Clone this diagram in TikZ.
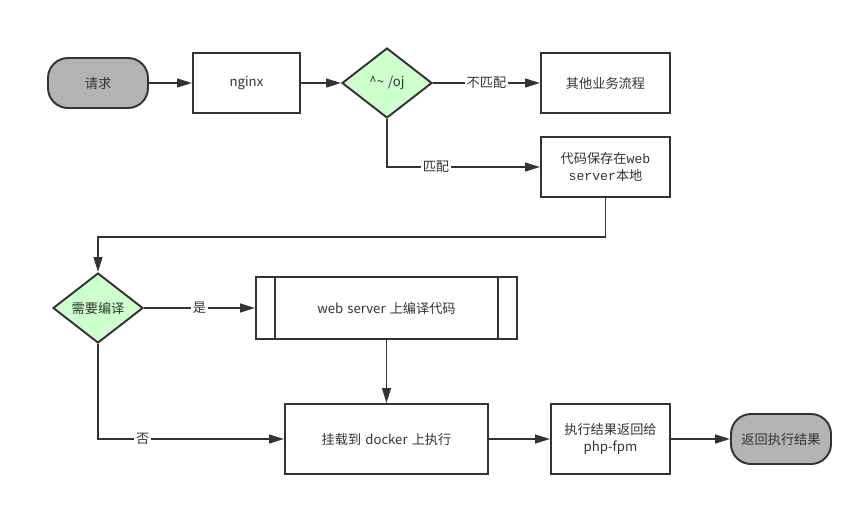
\documentclass[tikz,border=0pt]{standalone}
\usepackage{fontspec}
\setmainfont{Noto Sans CJK SC}[WordSpace=1.4]
\newfontfamily\monofont{Liberation Mono}
\usetikzlibrary{shapes.geometric,arrows.meta}
\definecolor{linegray}{HTML}{333333}
\definecolor{termgray}{HTML}{B3B3B3}
\definecolor{decgreen}{HTML}{CCFFCC}
\tikzstyle{box} = [rectangle, minimum width=2.58cm, minimum height=1.2cm, draw=linegray, line width=1.1pt, align=center, text=linegray]
\tikzstyle{term} = [rectangle, rounded corners=0.4cm, minimum width=2cm, minimum height=1cm, draw=linegray, line width=1.1pt, fill=termgray, text=linegray]
\tikzstyle{decision} = [diamond, minimum width=1.8cm, minimum height=1.4cm, inner sep=0pt, draw=linegray, line width=1.1pt, fill=decgreen, text=linegray]
\tikzstyle{arrow} = [draw=linegray, line width=1.1pt, -{Triangle[length=8.5pt,width=5pt]}]
\tikzstyle{tag} = [fill=white, inner sep=1pt, text=linegray]

\begin{document}
\begin{tikzpicture}[font=\fontsize{7.5}{10}\selectfont]
    \useasboundingbox (0,0) rectangle (17.26,-10.12);
    \node (req) [term] at (1.96,-1.66) {请求};
    \node (nginx) [box, minimum width=2.14cm] at (4.93,-1.66) {nginx};
    \node (oj) [decision] at (7.74,-1.66) {\textasciicircum\textasciitilde{} /oj};
    \node (other) [box] at (12.11,-1.66) {其他业务流程};
    \node (store) [box] at (12.11,-3.34) {代码保存在{\monofont web}\\{\monofont server}本地};
    \node (compile) [decision] at (1.96,-6.16) {需要编译};
    \node (build) [box, minimum width=5.22cm, minimum height=1.24cm] at (7.73,-6.16) {web server 上编译代码};
    \node (docker) [box, minimum width=4.06cm, minimum height=1.4cm] at (7.73,-8.78) {挂载到 docker 上执行};
    \node (result) [box, minimum width=2.38cm, minimum height=1.4cm] at (12.21,-8.78) {执行结果返回给\\php-fpm};
    \node (ret) [term] at (15.62,-8.78) {返回执行结果};

    \draw[linegray, line width=1.1pt] ([xshift=0.4cm]build.north west) -- ([xshift=0.4cm]build.south west);
    \draw[linegray, line width=1.1pt] ([xshift=-0.4cm]build.north east) -- ([xshift=-0.4cm]build.south east);

    \draw[arrow] (req) -- (nginx);
    \draw[arrow] (nginx) -- (oj);
    \draw[arrow] (oj) -- node[tag] {不匹配} (other);
    \draw[arrow] (oj.south) |- node[tag, pos=0.66] {匹配} (store.west);
    \draw[arrow] (store.south) -- ++(0,-0.78) -| (compile.north);
    \draw[arrow] (compile) -- node[tag] {是} (build);
    \draw[arrow] (build) -- (docker);
    \draw[arrow] (compile.south) |- node[tag, pos=0.62] {否} (docker.west);
    \draw[arrow] (docker) -- (result);
    \draw[arrow] (result) -- (ret);
  \end{tikzpicture}
\end{document}
